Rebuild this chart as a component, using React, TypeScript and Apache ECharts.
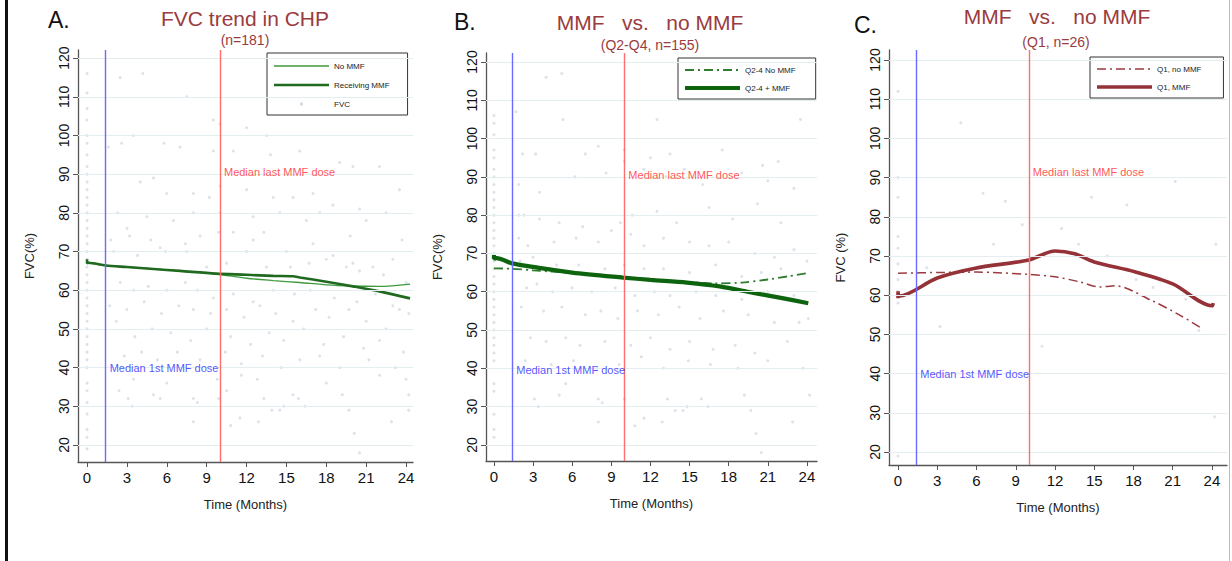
import React, { useEffect, useRef } from "react";
import * as echarts from "echarts";

// ---------- DATA ----------
const X_TICKS = [0, 3, 6, 9, 12, 15, 18, 21, 24];
const Y_TICKS = [20, 30, 40, 50, 60, 70, 80, 90, 100, 110, 120];
const MEDIAN_FIRST_DOSE = 1.4;
const MEDIAN_LAST_DOSE = 10;

const A_NO_MMF = [[0, 67.0], [1.4, 66.4], [3, 66.0], [5, 65.5], [7, 65.0], [9.7, 64.2], [12, 63.1], [14, 62.5], [16, 62.0], [18, 61.4], [20, 61.1], [22, 61.0], [24.3, 61.6]];
const A_MMF = [[0, 68.0], [0, 66.9], [0.1, 67.1], [1.4, 66.4], [3, 66.0], [5, 65.5], [7, 65.0], [9.7, 64.3], [12, 64.0], [14, 63.7], [15.5, 63.6], [16, 63.3], [18, 62.2], [20, 61.0], [22, 59.7], [24.3, 57.9]];

const B_NO_MMF = [[0, 66.1], [1.4, 66.0], [3, 65.6], [6, 64.9], [9, 64.0], [12, 63.2], [15, 62.5], [17, 62.2], [19, 62.4], [21, 63.2], [22.5, 64.0], [24.1, 64.9]];
const B_MMF = [[0, 69.6], [0, 68.6], [0.2, 68.8], [1.4, 67.4], [3, 66.5], [6, 65.0], [9.9, 63.7], [12, 63.1], [14.8, 62.4], [17.3, 61.4], [19.9, 59.7], [22, 58.4], [24.1, 57.0]];

const C_NO_MMF = [[0, 65.6], [3, 65.8], [6, 65.9], [10, 65.3], [12, 64.7], [13.9, 63.4], [15.4, 62.1], [16.6, 62.4], [19.3, 58.8], [21.5, 55.0], [23.3, 51.4]];
const C_MMF = [[0, 59.2], [0, 61.0], [0.1, 59.8], [3, 64.4], [5.9, 66.9], [10, 69.0], [12, 71.3], [13.5, 70.6], [15, 68.5], [18.1, 66.0], [21, 62.9], [24, 57.3], [24.1, 58.0]];

const A_POINTS = [
  [0, 19], [0, 22], [0, 24], [0, 28], [0, 31], [0, 34], [0, 36], [0, 40], [0, 42], [0, 44], [0, 46], [0, 48], [0, 50], [0, 52], [0, 54], [0, 56], [0, 58], [0, 60], [0, 62], [0, 64], [0, 66], [0, 68], [0, 70], [0, 72], [0, 74], [0, 76], [0, 78], [0, 80], [0, 82], [0, 84], [0, 86], [0, 88], [0, 90], [0, 92], [0, 95], [0, 98], [0, 100], [0, 104], [0, 107], [0, 111], [0, 116],
  [2.5, 115], [4.2, 116], [7.5, 110], [9.5, 104], [10, 103], [12, 102], [13.5, 100], [3.5, 100], [5.8, 98], [1.6, 97], [2.6, 98], [7, 97], [9.5, 96], [11, 96], [13.8, 95], [16, 96], [19, 93], [20, 92], [22, 92], [23.5, 86],
  [4, 88], [5, 89], [6, 85], [8, 85], [9.2, 84], [10, 87], [12, 86], [14, 84], [15.5, 84], [17, 85], [18.5, 82], [20.5, 81], [22.5, 80], [2.3, 80], [3, 76], [4.5, 79], [6.5, 78], [8, 80], [10, 80], [12.5, 79], [14.5, 80], [16.5, 78], [17.5, 80], [19.8, 74], [21, 78], [23.7, 73],
  [1.8, 73], [3.2, 74], [4.8, 73], [5.5, 71], [7.4, 72], [8.5, 74], [9.9, 75], [11, 75], [12.5, 73], [13.3, 75], [15, 70], [17, 72], [18.5, 69], [20, 67], [21.5, 66], [23, 68], [2, 70], [3.8, 69], [5.9, 70], [7.5, 70], [9, 66], [10.5, 67], [12, 70], [13.5, 66], [15.3, 66], [16.7, 67], [18, 68], [19.5, 66], [20.5, 65], [22.3, 64], [24, 62],
  [2.5, 62], [3.5, 60], [4.6, 61], [6, 60], [7.4, 62], [8.3, 60], [9.5, 58], [11, 59], [12.5, 57], [14, 60], [15.6, 59], [16.8, 60], [18.6, 58], [20.3, 57], [21.7, 59], [23, 56], [24.2, 54], [1.7, 56], [3, 55], [4.3, 57], [5.6, 54], [6.9, 56], [8, 55], [9.3, 54], [10.5, 55], [11.8, 53], [13, 56], [14.2, 54], [15.5, 52], [17.2, 55], [18.2, 53], [19.7, 55], [21, 52], [22.5, 50], [23.5, 55],
  [2.2, 52], [3.6, 48], [4.9, 50], [6.3, 49], [7.8, 47], [9, 50], [10.8, 48], [12.3, 46], [13.7, 49], [14.8, 47], [16.3, 50], [17.8, 46], [19.3, 48], [20.8, 45], [22, 47], [23.8, 44], [2.8, 43], [4.1, 44], [5.3, 42], [6.8, 44], [8.5, 42], [10.4, 44], [11.6, 41], [13.2, 43], [14.6, 40], [16, 42], [17.5, 43], [19, 40], [21.2, 42], [23.2, 40],
  [3.5, 37], [6, 36], [9.8, 37], [11.6, 38], [12.8, 37], [18, 36], [22, 38], [24, 37], [2.4, 34], [3.1, 32], [3.4, 30], [5, 33], [5.5, 32], [8, 32], [8.3, 31], [8, 26], [9.9, 32], [10.5, 34], [10.8, 25], [11.5, 27], [12.9, 26], [13.3, 32], [13.9, 29], [14.5, 29], [14.8, 30], [15.5, 33], [15.9, 32], [16.4, 30], [19.2, 33], [19.7, 29], [20.1, 23], [20.5, 18], [22.9, 26], [24.2, 33], [24.2, 29]
];

const B_POINTS = [
  [0, 22], [0, 24], [0, 28], [0, 34], [0, 36], [0, 42], [0, 44], [0, 46], [0, 48], [0, 50], [0, 52], [0, 54], [0, 56], [0, 58], [0, 60], [0, 62], [0, 64], [0, 66], [0, 68], [0, 70], [0, 72], [0, 74], [0, 76], [0, 78], [0, 80], [0, 82], [0, 84], [0, 86], [0, 88], [0, 90], [0, 92], [0, 95], [0, 97], [0, 101], [0, 104], [0, 106],
  [4, 116], [5.2, 117], [10, 97], [5.3, 105], [1.7, 107], [12.5, 105], [23.5, 105], [2.2, 96], [3.2, 96], [7, 96], [8, 98], [10, 94], [12, 95], [13.5, 96], [17.5, 97], [20.6, 93], [21.8, 94],
  [1.9, 88], [3.5, 86], [6.2, 90], [8.6, 91], [11.5, 92], [13.2, 90], [14.6, 92], [16, 88], [19, 91], [21, 89], [23, 87],
  [1.9, 80], [2.3, 80], [3.5, 79], [5, 78], [6.8, 77], [9.7, 78], [10.6, 80], [12.5, 81], [14, 78], [16.5, 82], [18.3, 79], [20.2, 83], [22, 78],
  [1.9, 74], [2.6, 72], [4.6, 73], [6.3, 74], [8, 73], [9, 76], [10.5, 75], [11.5, 72], [13, 74], [15, 73], [16.5, 72], [18, 73], [20, 70], [21.5, 69], [23, 71], [24, 68],
  [2, 68], [3, 69], [4.8, 67], [6.5, 67], [8.5, 66], [10, 67], [11.5, 66], [13, 66], [15, 65], [17, 67], [19, 64], [20.5, 65], [22, 66],
  [2.5, 61], [3.3, 62], [4.5, 60], [6, 61], [7.5, 60], [9.3, 61], [10.8, 59], [12.3, 60], [13.5, 59], [15.5, 60], [17, 59], [19, 58], [21, 60], [23, 59],
  [2.1, 56], [3.8, 55], [5.2, 56], [7, 54], [8.2, 55], [9.5, 53], [11, 55], [12.6, 54], [14.2, 56], [15.8, 53], [17.6, 55], [19.5, 54], [21.5, 52], [23.4, 52], [24.1, 53],
  [2.8, 48], [4, 47], [5.5, 48], [6.6, 46], [8.5, 47], [10.5, 46], [12, 48], [13.5, 45], [15, 47], [16.8, 45], [18.5, 46], [20, 44], [22.5, 47],
  [2.4, 42], [4.4, 41], [6.1, 42], [7.9, 40], [9.6, 41], [11.3, 43], [13, 40], [14.9, 42], [16.6, 41], [18.7, 40], [21, 42], [23.7, 40],
  [3.1, 32], [3.4, 30], [5, 33], [5.5, 36], [8, 32], [8.3, 31], [8, 26], [10, 32], [10.8, 25], [11.5, 27], [12.9, 26], [13.3, 32], [13.9, 29], [14.5, 29], [14.8, 30], [15.9, 32], [16.4, 30], [19.2, 33], [19.7, 29], [20.1, 23], [20.5, 18], [22.9, 26], [24.2, 33]
];

const C_POINTS = [
  [0, 112], [0, 90], [0, 85], [0, 75], [0, 72], [0, 68], [0, 64], [0, 61], [0, 58], [0, 19],
  [3.2, 52], [4.8, 104], [6.5, 86], [8.2, 84], [9.5, 78], [11, 47], [12.5, 77], [13.8, 73], [14.8, 85], [16, 70], [17.5, 83], [18.2, 64], [19.5, 62], [21.2, 89], [22, 59], [23, 51], [24.2, 29], [24.3, 73], [7.3, 73], [2.2, 67]
];

// ---------- STYLES / LAYOUT ----------
const GRIDS = [
  { left: 78, top: 50, width: 335, height: 412 },
  { left: 486, top: 53, width: 331, height: 408 },
  { left: 889, top: 50, width: 338, height: 415 },
];
const X_RANGES = [[-0.68, 24.52], [-0.61, 24.77], [-0.69, 25.15]];
const Y_RANGES = [[15.6, 122.1], [15.8, 122.35], [16.7, 122.55]];
const Y_NAMES = ["FVC(%)", "FVC(%)", "FVC (%)"];
const FONT = "Liberation Sans, Arial, Helvetica, sans-serif";
const TITLE_RED = "#9a3b40";
const PT_COLOR = "#d3dbe6";

// legend icons (55 x 8 box), line drawn as a thin filled bar centred vertically
const BOX = "M0,0M55,8";
const solidIcon = (w: number) => `path://${BOX}M0,${4 - w / 2}h55v${w}h-55z`;
const dashDotIcon = (w: number) => {
  let d = BOX;
  let x = 0;
  const pat = [[9, true], [4, false], [2, true], [4, false]] as [number, boolean][];
  let k = 0;
  while (x < 55) {
    const [len, on] = pat[k % pat.length];
    const l = Math.min(len, 55 - x);
    if (on) d += `M${x},${4 - w / 2}h${l}v${w}h${-l}z`;
    x += len;
    k++;
  }
  return "path://" + d;
};
const dotIcon = `path://${BOX}M26,2.5h3v3h-3z`;

export default function App() {
  const ref = useRef<HTMLDivElement>(null);
  useEffect(() => {
    if (!ref.current) return;
    const chart = echarts.init(ref.current, null, { renderer: "svg" });

    const xAxes = GRIDS.map((_, i) => ({
      type: "value",
      gridIndex: i,
      min: X_RANGES[i][0],
      max: X_RANGES[i][1],
      axisLine: { show: true, onZero: false, lineStyle: { color: "#555", width: 1.3 } },
      axisTick: { show: true, length: 5, customValues: X_TICKS, lineStyle: { color: "#555" } },
      axisLabel: { customValues: X_TICKS, fontSize: 15, color: "#111", margin: 8, fontFamily: FONT },
      splitLine: { show: false },
      name: "Time (Months)",
      nameLocation: "middle",
      nameGap: 36,
      nameTextStyle: { fontSize: 13, color: "#222", fontFamily: FONT },
    }));
    const yAxes = GRIDS.map((_, i) => ({
      type: "value",
      gridIndex: i,
      min: Y_RANGES[i][0],
      max: Y_RANGES[i][1],
      axisLine: { show: true, onZero: false, lineStyle: { color: "#555", width: 1.3 } },
      axisTick: { show: true, length: 5, customValues: Y_TICKS, lineStyle: { color: "#555" } },
      axisLabel: { customValues: Y_TICKS, rotate: 90, fontSize: 14, color: "#111", margin: 7, fontFamily: FONT },
      splitLine: { show: false },
      name: Y_NAMES[i],
      nameLocation: "middle",
      nameGap: 42,
      nameTextStyle: { fontSize: 13, color: "#222", fontFamily: FONT },
    }));

    const refLines = (i: number) => ({
      name: "ref" + i,
      type: "scatter",
      xAxisIndex: i,
      yAxisIndex: i,
      z: 1,
      silent: true,
      symbolSize: 0,
      data: [],
      markLine: {
        silent: true,
        symbol: ["none", "none"],
        label: { show: false },
        lineStyle: { color: "#e4edf0", type: "solid", width: 1 },
        data: [
          ...Y_TICKS.map((v) => ({ yAxis: v })),
          { xAxis: MEDIAN_FIRST_DOSE, lineStyle: { color: "#6b6bff", width: 1.4, type: "solid" } },
          { xAxis: MEDIAN_LAST_DOSE, lineStyle: { color: "#ff6e6e", width: 1.4, type: "solid" } },
        ],
      },
    });

    const annot = (i: number, yLast: number, yFirst: number) => [
      {
        name: "annLast" + i, type: "scatter", xAxisIndex: i, yAxisIndex: i, z: 5, silent: true, symbolSize: 0,
        data: [[MEDIAN_LAST_DOSE, yLast]],
        label: { show: true, position: "right", distance: 4, formatter: "Median last MMF dose", color: "#ff2a2a", fontSize: 11, fontFamily: FONT },
      },
      {
        name: "annFirst" + i, type: "scatter", xAxisIndex: i, yAxisIndex: i, z: 5, silent: true, symbolSize: 0,
        data: [[MEDIAN_FIRST_DOSE, yFirst]],
        label: { show: true, position: "right", distance: 4, formatter: "Median 1st MMF dose", color: "#2a2aff", fontSize: 11, fontFamily: FONT },
      },
    ];

    const pts = (i: number, name: string, data: number[][]) => ({
      name, type: "scatter", xAxisIndex: i, yAxisIndex: i, z: 2, silent: true,
      symbol: "circle", symbolSize: 3, itemStyle: { color: PT_COLOR }, data,
    });
    const curve = (i: number, name: string, data: number[][], color: string, width: number, type: any) => ({
      name, type: "line", xAxisIndex: i, yAxisIndex: i, z: 4, silent: true,
      symbol: "none", smooth: 0.3, data, lineStyle: { color, width, type }, itemStyle: { color },
    });

    const DASHDOT = [9, 4, 2, 4];

    const series: any[] = [
      refLines(0), refLines(1), refLines(2),
      pts(0, "FVC", A_POINTS), pts(1, "FVC B", B_POINTS), pts(2, "FVC C", C_POINTS),
      curve(0, "No MMF", A_NO_MMF, "#3f9a3f", 1.3, "solid"),
      curve(0, "Receiving MMF", A_MMF, "#1f6a1f", 2.6, "solid"),
      curve(1, "Q2-4 No MMF", B_NO_MMF, "#2d7d2d", 1.8, DASHDOT),
      curve(1, "Q2-4 + MMF", B_MMF, "#0e640e", 4.2, "solid"),
      curve(2, "Q1, no MMF", C_NO_MMF, "#9b3a40", 1.5, DASHDOT),
      curve(2, "Q1, MMF", C_MMF, "#943237", 3.6, "solid"),
      ...annot(0, 90.5, 40),
      ...annot(1, 90.5, 39.6),
      ...annot(2, 91.4, 39.9),
    ];

    const legendBase = {
      orient: "vertical",
      backgroundColor: "#fff",
      borderColor: "#333",
      borderWidth: 1,
      itemWidth: 55,
      itemHeight: 8,
      itemGap: 10,
      selectedMode: false,
      textStyle: { fontSize: 8, color: "#222", fontFamily: FONT },
    };

    const titleText = (x: number, y: number, text: string, size: number, color: string, align = "center") => ({
      type: "text", x, y,
      style: { text, fontSize: size, fill: color, fontFamily: FONT, align, verticalAlign: "middle" },
    });

    chart.setOption({
      animation: false,
      backgroundColor: "#fff",
      grid: GRIDS.map((g) => ({ ...g, containLabel: false })),
      xAxis: xAxes,
      yAxis: yAxes,
      series,
      legend: [
        { ...legendBase, left: 267, top: 53, padding: [9, 18, 7, 7], itemGap: 11,
          data: [
            { name: "No MMF", icon: solidIcon(1.3) },
            { name: "Receiving MMF", icon: solidIcon(2.6) },
            { name: "FVC", icon: dotIcon, itemStyle: { color: "#c8d2e0" } },
          ] },
        { ...legendBase, left: 678, top: 58, padding: [8, 20, 7, 7],
          data: [
            { name: "Q2-4 No MMF", icon: dashDotIcon(1.8) },
            { name: "Q2-4 + MMF", icon: solidIcon(4) },
          ] },
        { ...legendBase, left: 1090, top: 57, padding: [8, 22, 7, 7],
          data: [
            { name: "Q1, no MMF", icon: dashDotIcon(1.5) },
            { name: "Q1, MMF", icon: solidIcon(3.5) },
          ] },
      ],
      graphic: [
        { type: "rect", shape: { x: 5, y: 0, width: 3, height: 561 }, style: { fill: "#111" } },
        { type: "rect", shape: { x: 1229, y: 0, width: 1, height: 561 }, style: { fill: "#bbb" } },
        titleText(48, 20, "A.", 23, "#111", "left"),
        titleText(245, 18, "FVC trend in CHP", 21, TITLE_RED),
        titleText(245, 40, "(n=181)", 14, TITLE_RED),
        titleText(454, 22, "B.", 23, "#111", "left"),
        titleText(650, 22, "MMF   vs.   no MMF", 21, TITLE_RED),
        titleText(650, 45, "(Q2-Q4, n=155)", 14, TITLE_RED),
        titleText(854, 25, "C.", 23, "#111", "left"),
        titleText(1057, 16, "MMF   vs.   no MMF", 21, TITLE_RED),
        titleText(1056, 42, "(Q1, n=26)", 14, TITLE_RED),
      ],
    });
    return () => chart.dispose();
  }, []);

  return <div ref={ref} style={{ position: "absolute", left: 0, top: 0, width: 1232, height: 561 }} />;
}
